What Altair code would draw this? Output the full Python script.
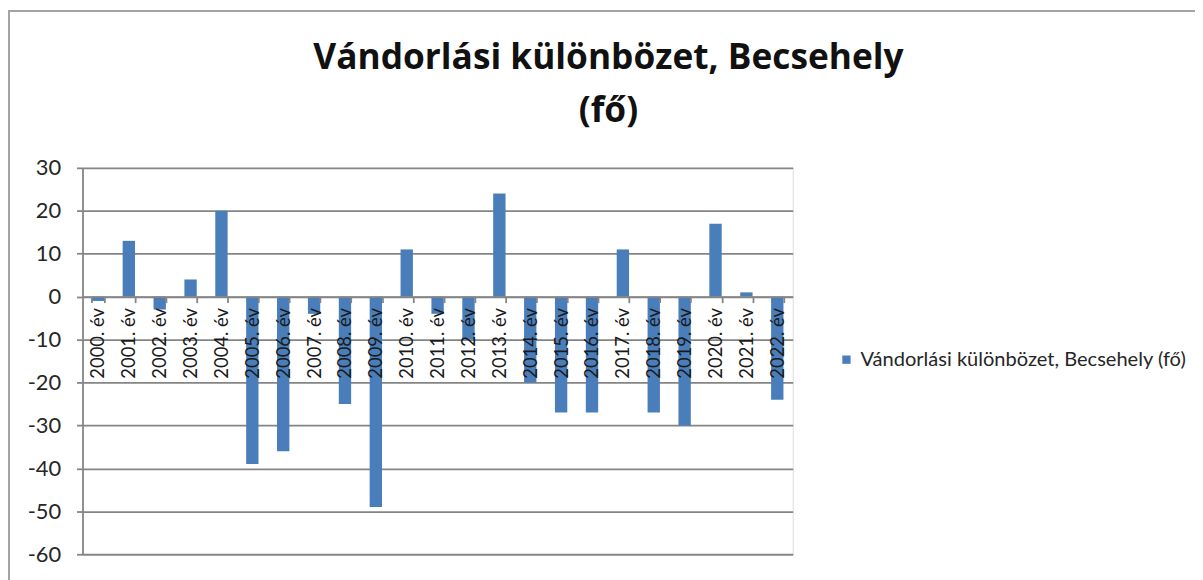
import altair as alt
import pandas as pd

# ---- data ----
year_labels = ["2000. év", "2001. év", "2002. év", "2003. év", "2004. év", "2005. év",
               "2006. év", "2007. év", "2008. év", "2009. év", "2010. év", "2011. év",
               "2012. év", "2013. év", "2014. év", "2015. év", "2016. év", "2017. év",
               "2018. év", "2019. év", "2020. év", "2021. év", "2022. év"]
values = [-1, 13, -3, 4, 20, -39, -36, -4, -25, -49, 11, -4, -10, 24, -20,
          -27, -27, 11, -27, -30, 17, 1, -24]
series_name = "Vándorlási különbözet, Becsehely (fő)"
y_ticks = [-60, -50, -40, -30, -20, -10, 0, 10, 20, 30]
title_lines = ["Vándorlási különbözet, Becsehely", "(fő)"]

df = pd.DataFrame({"label": year_labels, "value": values, "series": series_name})

W, H = 715, 389
YMIN, YMAX = -60, 30
FONT = "Lato"
GRID = "#858585"
zero_offset = -H * (0 - YMIN) / (YMAX - YMIN)

bars = alt.Chart(df).mark_bar().encode(
    x=alt.X("label:N", sort=None,
            scale=alt.Scale(paddingInner=0.6, paddingOuter=0.3),
            axis=alt.Axis(title=None, labelAngle=-90, offset=zero_offset,
                          tickBand="extent", tickSize=6, tickColor=GRID, tickWidth=1.8,
                          domainColor=GRID, domainWidth=1.8, labelPadding=5,
                          labelFont=FONT, labelFontSize=18.5, labelColor="#1a1a1a",
                          zindex=1)),
    y=alt.Y("value:Q",
            scale=alt.Scale(domain=[YMIN, YMAX], nice=False, zero=False),
            axis=alt.Axis(title=None, values=y_ticks, grid=True, gridColor=GRID,
                          gridWidth=1.8, domainColor=GRID, domainWidth=1.8,
                          tickColor=GRID, tickWidth=1.8, tickSize=6, labelPadding=16,
                          labelExpr="'' + datum.value",
                          labelFont=FONT, labelFontSize=22, labelColor="#262626")),
    color=alt.Color("series:N", scale=alt.Scale(range=["#4a7ebb"]),
                    legend=alt.Legend(title=None, orient="none", legendX=759, legendY=183,
                                      symbolType="square", symbolSize=70,
                                      symbolStrokeWidth=0,
                                      labelFont=FONT, labelFontSize=20.2, labelLimit=0,
                                      labelColor="#262626")),
)

frame = alt.Chart(pd.DataFrame({"a": [0]})).mark_rect(
    fillOpacity=0, stroke="#a3a3a3", strokeWidth=2, clip=False
).encode(x=alt.value(-74), x2=alt.value(1200), y=alt.value(-158), y2=alt.value(500))

chart = alt.layer(frame, bars).properties(
    width=W, height=H,
    title=alt.Title(title_lines, font="Open Sans", fontSize=35.5, fontWeight="bold",
                    color="#111111", anchor="middle", frame="group", dx=172,
                    lineHeight=53, offset=-120),
    autosize=alt.AutoSizeParams(type="none"),
    padding={"left": 75, "top": 159, "right": 405, "bottom": 24},
).configure_view(stroke=None).configure(background="white")

chart.save("out.html", embed_options={"renderer": "svg", "actions": False})
